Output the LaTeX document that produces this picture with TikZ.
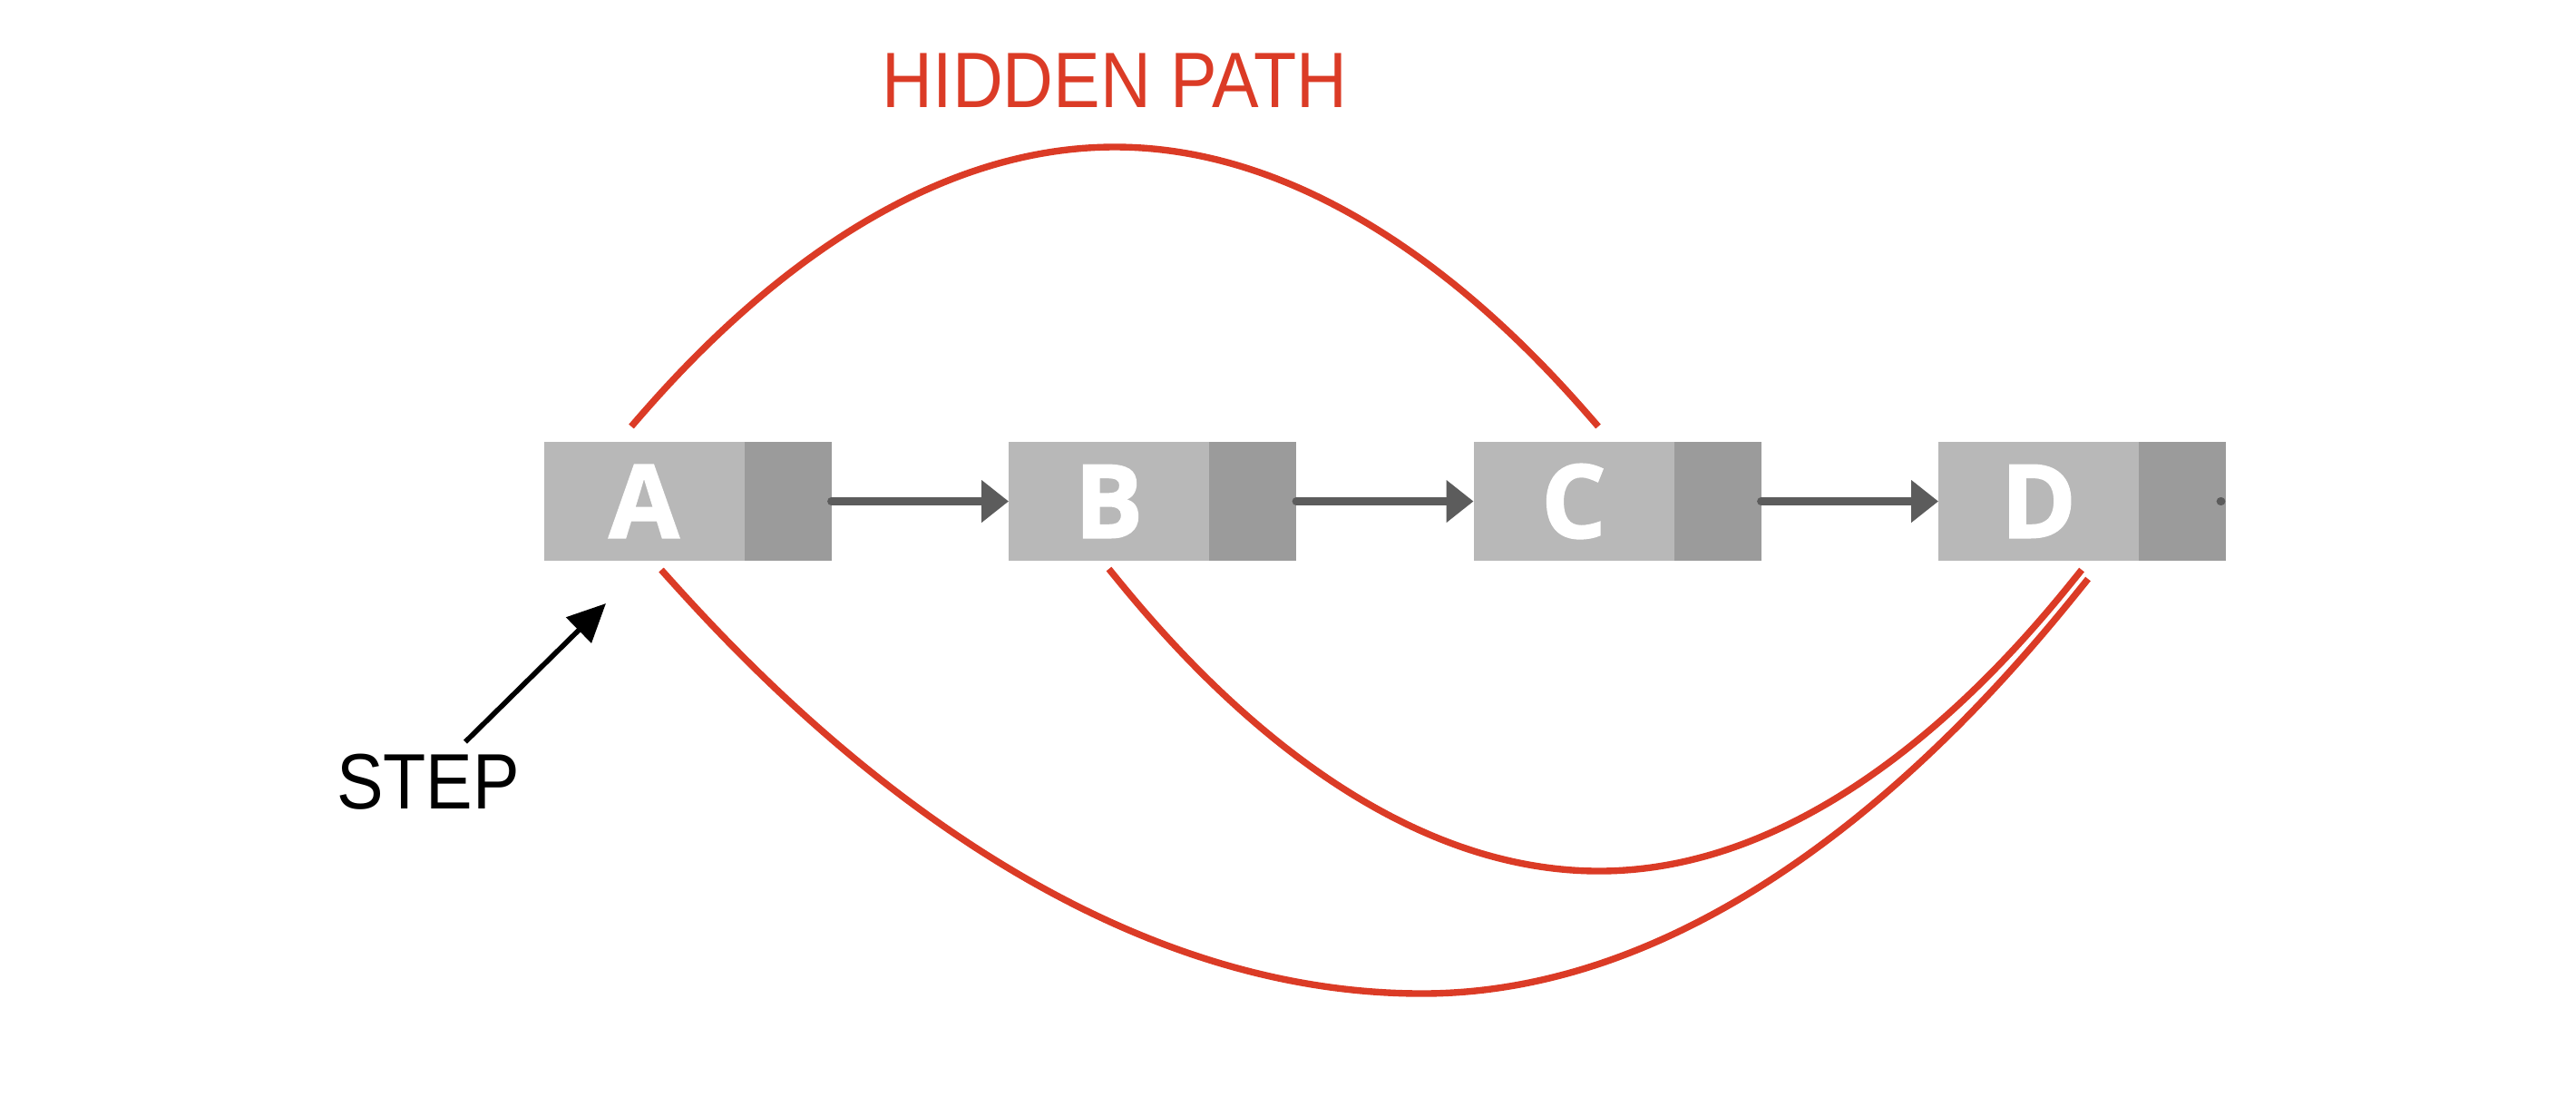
\documentclass[tikz,border=0pt]{standalone}
\usepackage{fontspec}
\setmainfont{Liberation Sans}
\newfontfamily\letterfont{Open Sans}[BoldFeatures={FakeBold=1.5}]
\usetikzlibrary{positioning,calc,arrows.meta}

\definecolor{hidred}{RGB}{219,59,38}
\definecolor{cellgray}{RGB}{184,184,184}
\definecolor{ptrgray}{RGB}{155,155,155}
\definecolor{linkgray}{RGB}{92,92,92}

\tikzset{
  cell/.style={fill=cellgray, minimum width=2.21cm, minimum height=1.31cm, inner sep=0pt, outer sep=0pt,
    text=white, font=\letterfont\bfseries\fontsize{32}{32}\selectfont},
  ptr/.style={fill=ptrgray, minimum width=0.96cm, minimum height=1.31cm, inner sep=0pt, outer sep=0pt},
  link/.style={draw=linkgray, line width=2.5pt, line cap=round, -{Triangle[length=8.5pt,width=12.8pt]}},
  hidden/.style={draw=hidred, line width=2.1pt},
  pointer/.style={draw=black, line width=1.6pt, -{Triangle[length=12pt,width=11pt]}},
  label/.style={inner sep=0pt, font=\fontsize{22}{22}\selectfont}
}

\begin{document}
\begin{tikzpicture}[node distance=1.955cm]
  \useasboundingbox (0,0) rectangle (28.4,-12.08);
  % the list
  \node[cell] (A) at (7.10,-5.525) {A};
  \node[ptr, right=0pt of A] (Ap) {};
  \node[cell, right=of Ap] (B) {B};
  \node[ptr, right=0pt of B] (Bp) {};
  \node[cell, right=of Bp] (C) {C};
  \node[ptr, right=0pt of C] (Cp) {};
  \node[cell, right=of Cp] (D) {D};
  \node[ptr, right=0pt of D] (Dp) {};
  \foreach \a/\b in {Ap/B,Bp/C,Cp/D}
    \draw[link] (\a) -- (\b);
  \draw[linkgray, line width=2.5pt, line cap=round] ($(Dp.east)+(-0.05,0)$) -- ++(-0.01,0);
  % hidden paths
  \coordinate (topA) at ($(A.north)+(-0.14,0.17)$);
  \coordinate (topC) at ($(C.north)+(0.27,0.17)$);
  \coordinate (lowB) at ($(B.south)+(0,-0.09)$);
  \coordinate (lowA) at ($(A.south)+(0.19,-0.10)$);
  \coordinate (endD1) at ($(D.south)+(0.475,-0.10)$);
  \coordinate (endD2) at ($(D.south)+(0.545,-0.20)$);
  \draw[hidden] (topA) parabola bend (12.29,-1.62) (topC);
  \draw[hidden] (lowB) parabola bend (17.63,-9.60) (endD1);
  \draw[hidden] (lowA) parabola bend (15.68,-10.95) (endD2);
  \node[label, text=hidred] (title) at (12.29,-0.885) {\scalebox{1}[1.12]{HIDDEN PATH}};
  % step
  \node[label] (step) at (4.72,-8.62) {\scalebox{1}[1.12]{STEP}};
  \draw[pointer] ($(step.north)+(0.41,0.13)$) -- ($(A.south)+(-0.42,-0.47)$);
\end{tikzpicture}
\end{document}
